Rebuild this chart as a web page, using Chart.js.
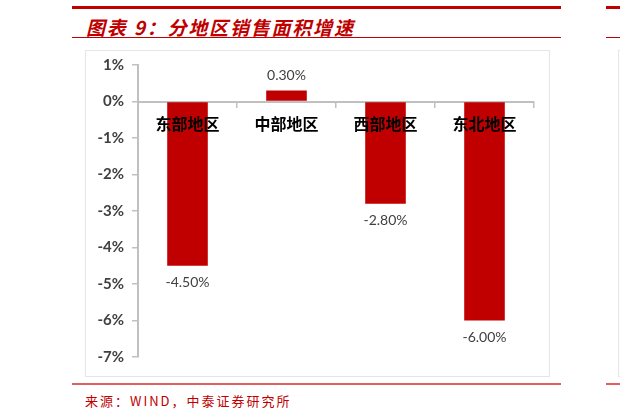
<!DOCTYPE html>
<html>
<head>
<meta charset="utf-8">
<script src="https://cdn.jsdelivr.net/npm/chart.js@4.4.1/dist/chart.umd.min.js"></script>
<style>
  body { margin: 0; background: #fff; width: 620px; height: 415px; position: relative; overflow: hidden; }
  .rule { position: absolute; background: #c00000; }
  #title { position: absolute; left: 86px; top: 13px; font: italic bold 19px "Noto Sans CJK SC", sans-serif; color: #c00000; letter-spacing: 1.8px; white-space: nowrap; }
  #source { position: absolute; left: 85px; top: 391px; font: 13px "Noto Sans CJK SC", sans-serif; color: #c00000; letter-spacing: 2px; white-space: nowrap; }
  #box { position: absolute; left: 85px; top: 50px; width: 463px; height: 325px; border: 1px solid #e6e6e6; }
  #box2 { position: absolute; left: 618px; top: 50px; width: 10px; height: 325px; border: 1px solid #e6e6e6; }
  #myChart { position: absolute; left: 0; top: -3px; }
</style>
</head>
<body>
<div class="rule" style="left:72px;top:6px;width:489px;height:3px"></div>
<div class="rule" style="left:606px;top:6px;width:14px;height:3px"></div>
<div id="title">图表 9：分地区销售面积增速</div>
<div class="rule" style="left:72px;top:37px;width:489px;height:1px"></div>
<div class="rule" style="left:606px;top:37px;width:14px;height:1px"></div>
<div id="box2"></div>
<div id="box"><canvas id="myChart" width="463" height="328"></canvas></div>
<div class="rule" style="left:72px;top:383px;width:489px;height:2px;background:#e06060"></div>
<div class="rule" style="left:606px;top:383px;width:14px;height:2px;background:#e06060"></div>
<div id="source">来源：WIND，中泰证券研究所</div>

<script>
"use strict";

var regions = ["东部地区", "中部地区", "西部地区", "东北地区"];
var growth = [-4.5, 0.3, -2.8, -6.0];
var yMin = -7;
var yMax = 1;

// value labels above / below each bar
var barLabels = {
    id: 'barLabels',
    afterDatasetsDraw: function (chart) {
        var c = chart.ctx;
        var meta = chart.getDatasetMeta(0);
        c.save();
        c.font = '14px Lato, sans-serif';
        c.fillStyle = '#404040';
        c.textAlign = 'center';
        c.textBaseline = 'middle';
        meta.data.forEach(function (bar, i) {
            var v = growth[i];
            var y = v >= 0 ? bar.y - 15 : bar.y + 17;
            c.fillText(v.toFixed(2) + '%', bar.x, y);
        });
        c.restore();
    }
};

var ctx = document.getElementById('myChart').getContext('2d');

var myChart = new Chart(ctx, {
    type: 'bar',
    data: {
        labels: regions,
        datasets: [{
            data: growth,
            backgroundColor: '#c00000',
            barPercentage: 0.41,
            categoryPercentage: 1
        }]
    },
    plugins: [barLabels],
    options: {
        responsive: false,
        animation: false,
        layout: { padding: { top: 9, bottom: 19, right: 15, left: 0 } },
        plugins: {
            legend: { display: false },
            tooltip: { enabled: false }
        },
        scales: {
            x: {
                position: { y: 0 },
                grid: { drawOnChartArea: false, tickLength: 5, color: '#c0c0c0', lineWidth: 1.5 },
                border: { color: '#c0c0c0', width: 2 },
                ticks: {
                    z: 1,
                    padding: 8,
                    color: '#000',
                    font: { family: '"Noto Sans CJK SC"', size: 16, weight: 'bold' }
                }
            },
            y: {
                min: yMin,
                max: yMax,
                afterFit: function (s) { s.width = 52; },
                grid: { drawOnChartArea: false, tickLength: 6, color: '#c0c0c0', lineWidth: 1.5 },
                border: { color: '#c0c0c0', width: 2 },
                ticks: {
                    stepSize: 1,
                    padding: 8,
                    color: '#404040',
                    font: { family: 'Lato', size: 15, weight: 'bold' },
                    callback: function (v) { return v + '%'; }
                }
            }
        }
    }
});
</script>
</body>
</html>
